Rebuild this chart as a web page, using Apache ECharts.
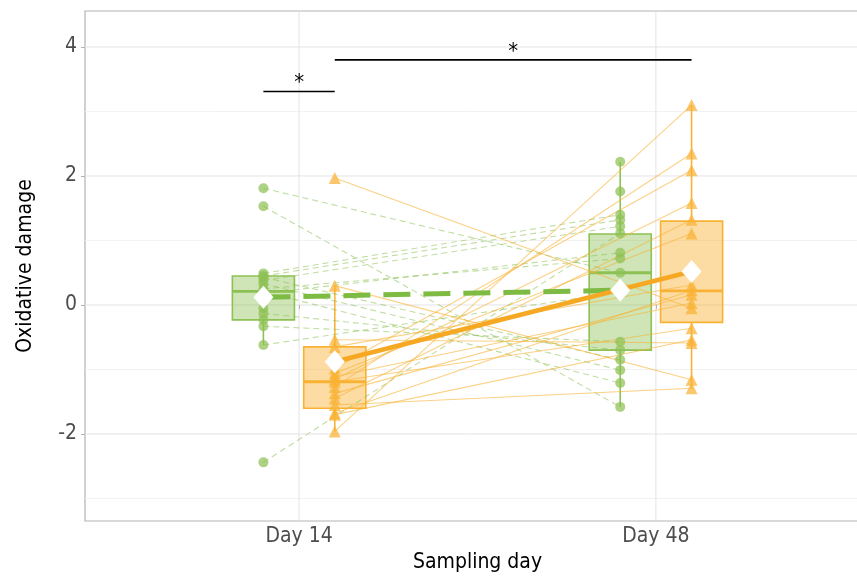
<!DOCTYPE html>
<html>
<head>
<meta charset="utf-8">
<script src="https://cdn.jsdelivr.net/npm/echarts@6/dist/echarts.min.js"></script>
<style>
  html, body { margin: 0; padding: 0; background: #ffffff; }
  #chart { width: 857px; height: 577px; }
</style>
</head>
<body>
<div id="chart"></div>
<script>
// ---- data -------------------------------------------------------------
const dayLabels = ['Day 14', 'Day 48'];
const dayPos = [1, 2];

// Paired values per individual (Day 14, Day 48); null = no sample that day
const greenDay14 = [1.81, 1.53, 0.49, 0.45, 0.43, 0.38, 0.33, 0.25, 0.21, 0.18, -0.05, -0.13, -0.23, -0.33, -0.62, -2.44, null, null];
const greenDay48 = [0.50, -1.58, 1.40, 1.32, -0.85, 1.22, -1.01, 0.72, -1.21, 0.81, null, -0.70, null, -0.57, 0.20, 1.11, 2.22, 1.76];
const orangeDay14 = [1.97, 0.30, -0.54, -0.65, -0.98, -1.06, -1.11, -1.15, -1.19, -1.27, -1.37, -1.45, -1.55, -1.68, -1.70, -1.96];
const orangeDay48 = [-0.05, -1.16, -0.59, 0.31, 2.09, 1.11, 0.03, 1.58, -0.36, 2.35, 0.16, 1.32, -1.29, 0.23, -0.54, 3.10];

// Box summaries per day: [lower whisker, Q1, median, Q3, upper whisker]
const greenBox = [[-0.62, -0.23, 0.21, 0.45, 0.49], [-1.58, -0.70, 0.50, 1.10, 2.22]];
const orangeBox = [[-1.96, -1.60, -1.19, -0.65, 0.30], [-1.29, -0.27, 0.22, 1.30, 3.10]];

// Group means per day
const greenMean = [0.12, 0.23];
const orangeMean = [-0.88, 0.52];

// Significance brackets: heights and labels
const sigHeights = [3.31, 3.80];
const sigLabels = ['*', '*'];

// Axis ticks
const yMajor = [-2, 0, 2, 4];
const yMinor = [-3, -1, 1, 3];

// ---- layout / style ---------------------------------------------------
const FONT = "'DejaVu Sans Condensed', 'DejaVu Sans', sans-serif";
const GREEN = '#8dc153';
const ORANGE = '#f9b233';
const GREEN_FILL = 'rgba(141,193,83,0.42)';
const ORANGE_FILL = 'rgba(249,178,51,0.45)';
const DODGE = 0.1;
const HALF_BOX = 0.087;

const xOf = (dayIdx, grp) => dayPos[dayIdx] + (grp === 0 ? -DODGE : DODGE);

const pointsOf = (values, dayIdx, grp) =>
  values.filter(v => v !== null).map(v => [xOf(dayIdx, grp), v]);

const pairsOf = (d14, d48, grp) =>
  d14.map((v, i) => [v, d48[i]])
     .filter(p => p[0] !== null && p[1] !== null)
     .map(p => [xOf(0, grp), p[0], xOf(1, grp), p[1]]);

const boxesOf = (boxes, grp) => boxes.map((b, i) => [xOf(i, grp)].concat(b));

// sig bracket spans: Day14 green vs Day14 orange; Day14 orange vs Day48 orange
const sigData = [
  [xOf(0, 0), xOf(0, 1), sigHeights[0], 0],
  [xOf(0, 1), xOf(1, 1), sigHeights[1], 1]
];

// ---- render helpers ---------------------------------------------------
function renderPair(stroke, dash) {
  return function (params, api) {
    const a = api.coord([api.value(0), api.value(1)]);
    const b = api.coord([api.value(2), api.value(3)]);
    return {
      type: 'line',
      shape: { x1: a[0], y1: a[1], x2: b[0], y2: b[1] },
      style: { stroke: stroke, lineWidth: 1.1, lineDash: dash }
    };
  };
}

function renderBox(stroke, fill) {
  return function (params, api) {
    const x = api.value(0);
    const lo = api.value(1), q1 = api.value(2), med = api.value(3), q3 = api.value(4), hi = api.value(5);
    const pHi = api.coord([x, hi]), pQ3 = api.coord([x, q3]);
    const pQ1 = api.coord([x, q1]), pLo = api.coord([x, lo]);
    const tl = api.coord([x - HALF_BOX, q3]);
    const br = api.coord([x + HALF_BOX, q1]);
    const ml = api.coord([x - HALF_BOX, med]);
    const mr = api.coord([x + HALF_BOX, med]);
    return {
      type: 'group',
      children: [
        { type: 'line', shape: { x1: pHi[0], y1: pHi[1], x2: pQ3[0], y2: pQ3[1] }, style: { stroke: stroke, lineWidth: 1.6 } },
        { type: 'line', shape: { x1: pQ1[0], y1: pQ1[1], x2: pLo[0], y2: pLo[1] }, style: { stroke: stroke, lineWidth: 1.6 } },
        { type: 'rect', shape: { x: tl[0], y: tl[1], width: br[0] - tl[0], height: br[1] - tl[1] }, style: { fill: fill, stroke: stroke, lineWidth: 1.6 } },
        { type: 'line', shape: { x1: ml[0], y1: ml[1], x2: mr[0], y2: mr[1] }, style: { stroke: stroke, lineWidth: 2.8 } }
      ]
    };
  };
}

function renderHGrid(width, color) {
  return function (params, api) {
    const cs = params.coordSys;
    const p = api.coord([1, api.value(1)]);
    return {
      type: 'line',
      shape: { x1: cs.x, y1: p[1], x2: cs.x + cs.width, y2: p[1] },
      style: { stroke: color, lineWidth: width }
    };
  };
}

function renderVGrid(params, api) {
  const cs = params.coordSys;
  const p = api.coord([api.value(0), 0]);
  return {
    type: 'line',
    shape: { x1: p[0], y1: cs.y, x2: p[0], y2: cs.y + cs.height },
    style: { stroke: '#e3e3e3', lineWidth: 1 }
  };
}

function renderSig(params, api) {
  const a = api.coord([api.value(0), api.value(2)]);
  const b = api.coord([api.value(1), api.value(2)]);
  return {
    type: 'group',
    children: [
      { type: 'line', shape: { x1: a[0], y1: a[1], x2: b[0], y2: b[1] }, style: { stroke: '#000000', lineWidth: 1.6 } },
      { type: 'text', x: (a[0] + b[0]) / 2, y: a[1] - 8,
        style: { text: sigLabels[api.value(3)], fill: '#000000', fontFamily: FONT, fontSize: 22,
                 align: 'center', verticalAlign: 'middle' } }
    ]
  };
}

// ---- chart ------------------------------------------------------------
const chart = echarts.init(document.getElementById('chart'), null, { renderer: 'canvas' });

const option = {
  animation: false,
  backgroundColor: '#ffffff',
  grid: {
    left: 85, top: 11, width: 785, height: 510,
    outerBoundsMode: 'none', containLabel: false,
    show: true, borderColor: '#b3b3b3', borderWidth: 1.2, backgroundColor: 'transparent'
  },
  xAxis: {
    type: 'value', min: 0.4, max: 2.6,
    name: 'Sampling day', nameLocation: 'middle', nameGap: 27,
    nameTextStyle: { fontFamily: FONT, fontSize: 21, color: '#000000' },
    axisLine: { show: false },
    axisTick: { show: true, customValues: dayPos, length: 4, lineStyle: { color: '#b3b3b3', width: 1 } },
    axisLabel: {
      customValues: dayPos, margin: 5, color: '#4d4d4d', fontFamily: FONT, fontSize: 21,
      formatter: v => dayLabels[dayPos.indexOf(v)]
    },
    splitLine: { show: false }
  },
  yAxis: {
    type: 'value', min: -3.349, max: 4.558,
    name: 'Oxidative damage', nameLocation: 'middle', nameGap: 49,
    nameTextStyle: { fontFamily: FONT, fontSize: 21, color: '#000000' },
    axisLine: { show: false },
    axisTick: { show: true, customValues: yMajor, length: 4, lineStyle: { color: '#b3b3b3', width: 1 } },
    axisLabel: { customValues: yMajor, margin: 8, color: '#4d4d4d', fontFamily: FONT, fontSize: 21 },
    splitLine: { show: false }
  },
  series: [
    { type: 'custom', name: 'minor grid', z: 0, silent: true, renderItem: renderHGrid(0.8, '#efefef'),
      encode: { x: 0, y: 1 }, data: yMinor.map(v => [1, v]) },
    { type: 'custom', name: 'major grid', z: 0, silent: true, renderItem: renderHGrid(1, '#e3e3e3'),
      encode: { x: 0, y: 1 }, data: yMajor.map(v => [1, v]) },
    { type: 'custom', name: 'day grid', z: 0, silent: true, renderItem: renderVGrid,
      encode: { x: 0, y: 1 }, data: dayPos.map(v => [v, 0]) },

    { type: 'custom', name: 'green boxes', z: 1, renderItem: renderBox(GREEN, GREEN_FILL),
      encode: { x: 0, y: [1, 2, 3, 4, 5] }, data: boxesOf(greenBox, 0) },
    { type: 'custom', name: 'orange boxes', z: 1, renderItem: renderBox(ORANGE, ORANGE_FILL),
      encode: { x: 0, y: [1, 2, 3, 4, 5] }, data: boxesOf(orangeBox, 1) },

    { type: 'custom', name: 'green pairs', z: 2, renderItem: renderPair('rgba(141,193,83,0.55)', [6, 4]),
      encode: { x: [0, 2], y: [1, 3] }, data: pairsOf(greenDay14, greenDay48, 0) },
    { type: 'custom', name: 'orange pairs', z: 2, renderItem: renderPair('rgba(249,178,51,0.6)', null),
      encode: { x: [0, 2], y: [1, 3] }, data: pairsOf(orangeDay14, orangeDay48, 1) },

    { type: 'scatter', name: 'green points', z: 3, symbol: 'circle', symbolSize: 10,
      itemStyle: { color: GREEN, opacity: 0.72 },
      data: pointsOf(greenDay14, 0, 0).concat(pointsOf(greenDay48, 1, 0)) },
    { type: 'scatter', name: 'orange points', z: 3, symbol: 'triangle', symbolSize: 12,
      itemStyle: { color: ORANGE, opacity: 0.72 },
      data: pointsOf(orangeDay14, 0, 1).concat(pointsOf(orangeDay48, 1, 1)) },

    { type: 'line', name: 'green mean', z: 4, symbol: 'none',
      lineStyle: { color: '#7dbb42', width: 5, type: [27, 13] },
      data: greenMean.map((m, i) => [xOf(i, 0), m]) },
    { type: 'line', name: 'orange mean', z: 4, symbol: 'none',
      lineStyle: { color: '#f7a823', width: 4.5 },
      data: orangeMean.map((m, i) => [xOf(i, 1), m]) },

    { type: 'scatter', name: 'means', z: 5, symbol: 'diamond', symbolSize: [20, 23],
      itemStyle: { color: '#ffffff', opacity: 1 },
      data: greenMean.map((m, i) => [xOf(i, 0), m]).concat(orangeMean.map((m, i) => [xOf(i, 1), m])) },

    { type: 'custom', name: 'significance', z: 6, renderItem: renderSig,
      encode: { x: [0, 1], y: 2 }, data: sigData }
  ]
};

chart.setOption(option);
</script>
</body>
</html>
